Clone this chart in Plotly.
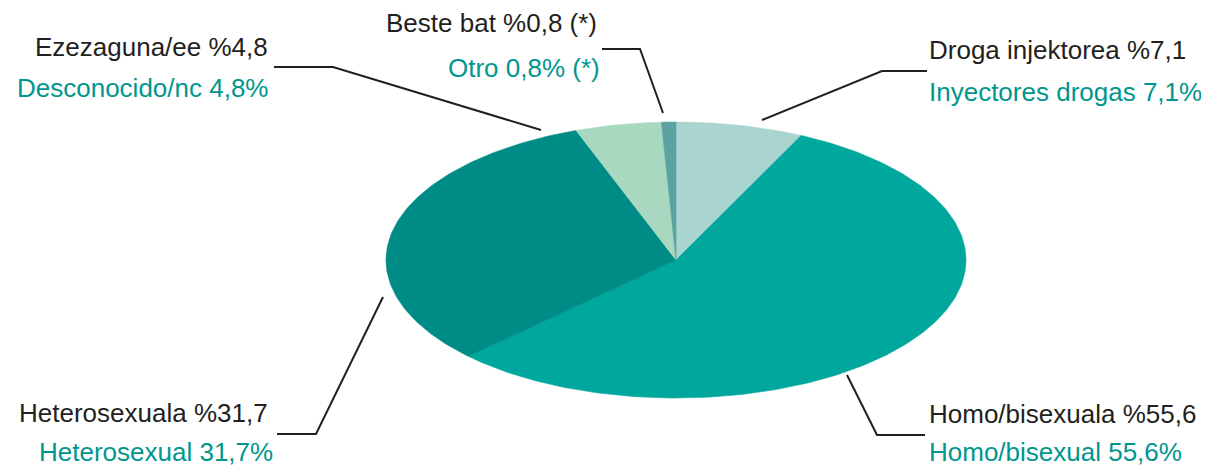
import numpy as np
import plotly.graph_objects as go

# ---- data ----
categories_eu = ["Droga injektorea", "Homo/bisexuala", "Heterosexuala", "Ezezaguna/ee", "Beste bat"]
categories_es = ["Inyectores drogas", "Homo/bisexual", "Heterosexual", "Desconocido/nc", "Otro"]
values = [7.1, 55.6, 31.7, 4.8, 0.8]
labels_eu = ["Droga injektorea %7,1", "Homo/bisexuala %55,6", "Heterosexuala %31,7",
             "Ezezaguna/ee %4,8", "Beste bat %0,8 (*)"]
labels_es = ["Inyectores drogas 7,1%", "Homo/bisexual 55,6%", "Heterosexual 31,7%",
             "Desconocido/nc 4,8%", "Otro 0,8% (*)"]
colors = ["#AAD4D0", "#00A79D", "#008C86", "#A8D8C0", "#5BA3A0"]

W, H = 1209, 467
OFF = 8  # page body margin compensation
cx, cy, rx, ry = 676, 260, 290, 138

fig = go.Figure()

total = sum(values)
start = 0.0
for cat, v, col in zip(categories_es, values, colors):
    a0 = start / total * 2 * np.pi
    a1 = (start + v) / total * 2 * np.pi
    t = np.linspace(a0, a1, max(4, int(400 * v / total)))
    xs = np.concatenate([[cx], cx + rx * np.sin(t), [cx]])
    ys = np.concatenate([[cy], cy - ry * np.cos(t), [cy]])
    fig.add_trace(go.Scatter(x=xs, y=ys, mode="lines", fill="toself",
                             fillcolor=col, line=dict(width=0.6, color=col),
                             hoverinfo="skip", showlegend=False, name=cat))
    start += v

# ---- label layout (pixel positions) ----
label_pos = [
    (927, 50, 92, "left"),
    (927, 414, 452, "left"),
    (270, 413, 452, "right"),
    (270, 47, 88, "right"),
    (599, 23, 68, "right"),
]
label_es_x = [927, 927, 275, 270, 602]
leaders = [
    [(927, 71), (882, 71), (762, 120)],
    [(925, 435), (877, 435), (847, 375)],
    [(277, 434), (316, 434), (383, 297)],
    [(274, 67), (333, 67), (541, 130)],
    [(602, 49), (640, 49), (663, 113)],
]

font_family = "Liberation Sans, Arial, Helvetica, sans-serif"
FS = 26
annotations = []
shapes = []
for (x, y1, y2, anc), xe, le, ls, pts in zip(label_pos, label_es_x, labels_eu, labels_es, leaders):
    annotations.append(dict(x=x, y=y1, xref="x", yref="y", text=le, showarrow=False,
                            xanchor=anc, yanchor="middle",
                            font=dict(family=font_family, size=FS, color="#231F20")))
    annotations.append(dict(x=xe, y=y2, xref="x", yref="y", text=ls, showarrow=False,
                            xanchor=anc, yanchor="middle",
                            font=dict(family=font_family, size=FS, color="#00968E")))
    path = "M " + " L ".join(f"{px},{py}" for px, py in pts)
    shapes.append(dict(type="path", path=path, xref="x", yref="y",
                       line=dict(color="#231F20", width=2)))

fig.update_layout(
    width=W, height=H,
    margin=dict(l=0, r=0, t=0, b=0),
    paper_bgcolor="white", plot_bgcolor="white",
    xaxis=dict(range=[OFF, W + OFF], visible=False, fixedrange=True),
    yaxis=dict(range=[H + OFF, OFF], visible=False, fixedrange=True),
    annotations=annotations, shapes=shapes,
    showlegend=False,
)

fig.write_html("out.html")
